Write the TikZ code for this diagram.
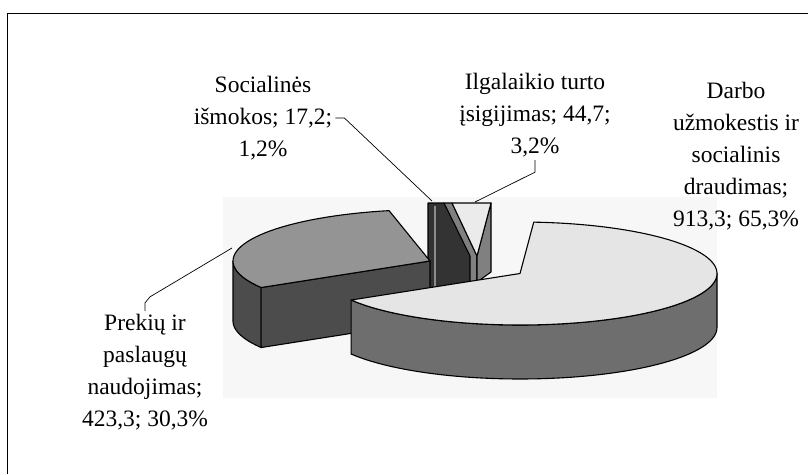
\documentclass[tikz,border=0pt]{standalone}
\usepackage{fontspec}
\setmainfont{Liberation Serif}
\begin{document}
\begin{tikzpicture}[x=1pt, y=-1pt, line join=round,
  lbl/.style={font=\fontsize{23.5}{32}\selectfont, align=center, inner sep=3pt},
  rim/.style={draw=black, line width=1.1pt},
  leader/.style={draw=black, line width=0.7pt}]

\useasboundingbox (0,0) rectangle (808,474);

% ----- Frame and plot area -----
\draw[line width=1pt] (7,474) -- (7,13) -- (808,13);
\fill[black!3] (223,197) rectangle (717,398);

% ----- Small slices (back) -----
\filldraw[rim, fill=black!80] (428,203) -- (444,203) -- (474,256) -- (474,292) -- (428,292) -- cycle;
\draw[black!45, line width=1.5pt] (435,206) -- (435,290);
\filldraw[rim, fill=black!50] (444,203) -- (452,203) -- (477,256) -- (477,292) -- (470,292) -- (470,256) -- cycle;
\filldraw[rim, fill=black!50] (491,203) -- (491,272) -- (477,282) -- (477,256) -- cycle;
\filldraw[rim, fill=black!8] (452,203) -- (491,203) -- (477,256) -- cycle;

% ----- Prekiu slice (left) -----
\filldraw[rim, fill=black!70]
  plot[domain=180:211, samples=20] ({430+197*cos(\x)}, {261-51.5*sin(\x)})
  -- plot[domain=211:180, samples=20] ({430+197*cos(\x)}, {321-51.5*sin(\x)}) -- cycle;
\filldraw[rim, fill=black!70] (430,261) -- ({430+197*cos(211)}, {261-51.5*sin(211)})
  -- ++(0,60) -- (430,321) -- cycle;
\filldraw[rim, fill=black!42] (430,261)
  -- plot[domain=102:211, samples=40] ({430+197*cos(\x)}, {261-51.5*sin(\x)}) -- cycle;

% ----- Darbo slice (front) -----
\filldraw[rim, fill=black!57]
  plot[domain=0:-149, samples=60] ({520+197*cos(\x)}, {273.5-51.5*sin(\x)})
  -- plot[domain=-149:0, samples=60] ({520+197*cos(\x)}, {327.5-51.5*sin(\x)}) -- cycle;
\filldraw[rim, fill=black!10] (520,273.5)
  -- plot[domain=86:-149, samples=100] ({520+197*cos(\x)}, {273.5-51.5*sin(\x)}) -- cycle;

% ----- Labels -----
\node[lbl] (socLbl) at (263,118) {Socialinės\\išmokos; 17,2;\\1,2\%};
\node[lbl] (ilgLbl) at (535,115) {Ilgalaikio turto\\įsigijimas; 44,7;\\3,2\%};
\node[lbl] (darLbl) at (736,156) {Darbo\\užmokestis ir\\socialinis\\draudimas;\\913,3; 65,3\%};
\node[lbl] (prkLbl) at (145,372) {Prekių ir\\paslaugų\\naudojimas;\\423,3; 30,3\%};

% ----- Leader lines -----
\coordinate (socTip) at (432,201);
\coordinate (ilgTip) at (475,202);
\coordinate (prkTip) at (232,248);
\draw[leader] (socLbl.east) -- ++(9,0) -- (socTip);
\draw[leader] (ilgLbl.south) -- ++(0,12) -- (ilgTip);
\draw[leader] (prkLbl.north) -- ++(0,-8) -- ++(5,-6) -- (prkTip);
\end{tikzpicture}
\end{document}
